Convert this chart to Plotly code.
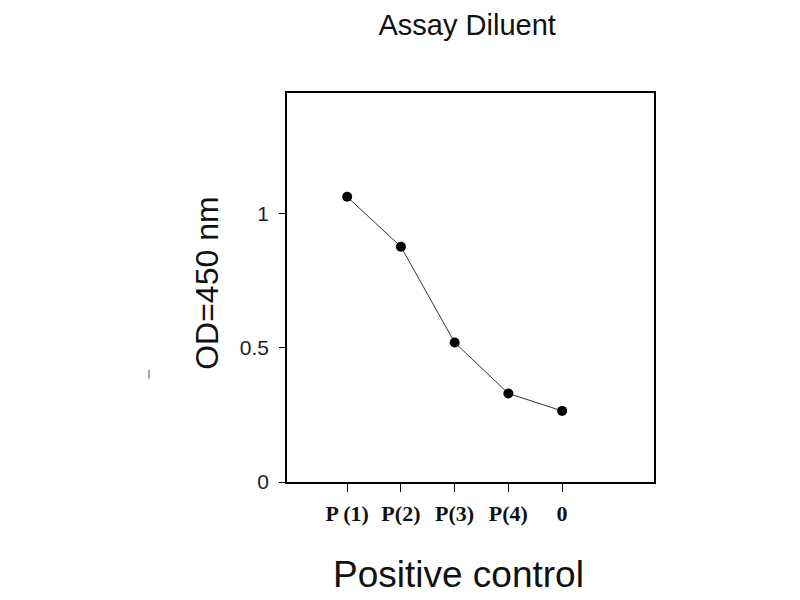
import plotly.graph_objects as go

# OD readings for the positive control dilutions
categories = ["P (1)", "P(2)", "P(3)", "P(4)", "0"]
od_values = [1.063, 0.877, 0.52, 0.33, 0.265]
y_ticks = [0, 0.5, 1]
y_tick_text = ["0", "0.5", "1"]

fig = go.Figure()

fig.add_trace(go.Scatter(
    x=categories, y=od_values,
    mode="lines+markers",
    line=dict(color="#333333", width=1),
    marker=dict(size=10, color="black"),
    showlegend=False
))

# page body adds an 8px offset, so margins are shifted to compensate
fig.update_layout(
    width=800, height=600,
    paper_bgcolor="white",
    plot_bgcolor="white",
    margin=dict(l=279, r=154, t=85, b=126),
    title=dict(
        text="Assay Diluent",
        x=0.574, xanchor="center",
        y=0.972, yanchor="middle",
        font=dict(family="Liberation Sans, Arial", size=29, color="#111111")
    ),
)

fig.update_xaxes(
    type="category",
    range=[-1.12, 5.71],
    showline=True, linecolor="black", linewidth=1.5, mirror=True,
    showgrid=False, zeroline=False,
    ticks="outside", ticklen=8, tickcolor="black", tickwidth=1.2,
    ticklabelstandoff=3,
    tickfont=dict(family="Liberation Serif, Times New Roman", size=22, color="#111111"),
    tickprefix="<b>", ticksuffix="</b>",
)

fig.update_yaxes(
    range=[0, 1.45],
    tickvals=y_ticks, ticktext=y_tick_text,
    showline=True, linecolor="black", linewidth=1.5, mirror=True,
    showgrid=False, zeroline=False,
    ticks="outside", ticklen=6, tickcolor="black", tickwidth=1,
    ticklabelstandoff=6,
    tickfont=dict(family="Liberation Sans, Arial", size=21, color="#222222"),
)

# axis titles placed as annotations
fig.add_annotation(
    text="OD=450 nm", textangle=-90,
    xref="paper", yref="paper", x=-0.218, y=0.512,
    xanchor="center", yanchor="middle", showarrow=False,
    font=dict(family="Liberation Sans, Arial", size=32, color="#111111")
)
fig.add_annotation(
    text="Positive control",
    xref="paper", yref="paper", x=0.466, y=-0.239,
    xanchor="center", yanchor="middle", showarrow=False,
    font=dict(family="Liberation Sans, Arial", size=37, color="#111111")
)

# small stray mark on the left of the original figure
fig.add_shape(
    type="line", xref="paper", yref="paper",
    x0=-0.376, x1=-0.376, y0=0.265, y1=0.288,
    line=dict(color="#555555", width=1)
)

fig.write_html("out.html")
